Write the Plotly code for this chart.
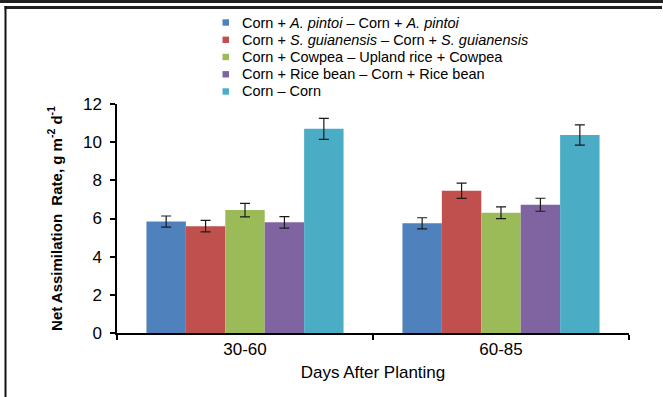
import plotly.graph_objects as go

# ---- data ----
categories = ["30-60", "60-85"]
series_names = [
    "Corn + <i>A. pintoi</i> – Corn + <i>A. pintoi</i>",
    "Corn + <i>S. guianensis</i> – Corn + <i>S. guianensis</i>",
    "Corn + Cowpea – Upland rice + Cowpea",
    "Corn + Rice bean – Corn + Rice bean",
    "Corn – Corn",
]
values_pintoi = [5.84, 5.75]
values_guianensis = [5.60, 7.45]
values_cowpea = [6.44, 6.30]
values_ricebean = [5.80, 6.72]
values_corn = [10.70, 10.38]
err_pintoi = [0.29, 0.29]
err_guianensis = [0.30, 0.40]
err_cowpea = [0.35, 0.31]
err_ricebean = [0.30, 0.34]
err_corn = [0.55, 0.53]

all_values = [values_pintoi, values_guianensis, values_cowpea, values_ricebean, values_corn]
all_errors = [err_pintoi, err_guianensis, err_cowpea, err_ricebean, err_corn]
colors = ["#4F81BD", "#C0504D", "#9BBB59", "#8064A2", "#4BACC6"]

W, H = 663, 397
ML, MR, MT, MB = 117, 34, 101, 67
PW, PH = W - ML - MR, H - MT - MB
FONT = "Liberation Sans, Arial, sans-serif"


def px(x):
    return (x - ML) / PW


def py(y):
    return (H - MB - y) / PH


fig = go.Figure()
for name, vals, errs, col in zip(series_names, all_values, all_errors, colors):
    fig.add_trace(go.Bar(
        x=categories, y=vals, name=name, marker_color=col,
        marker_line_width=0,
        error_y=dict(type="data", array=errs, visible=True,
                     color="#1a1a1a", thickness=1.2, width=5),
        showlegend=False,
    ))

shapes = []
annotations = []
# manual legend (compact, as in the reference)
row_y = [19.5, 36.8, 54.0, 71.3, 88.5]
for name, col, yy in zip(series_names, colors, row_y):
    shapes.append(dict(type="rect", xref="paper", yref="paper",
                       x0=px(222.5), x1=px(229), y0=py(yy + 3.2), y1=py(yy - 3.2),
                       fillcolor=col, line_width=0))
    annotations.append(dict(xref="paper", yref="paper", x=px(239.5), y=py(yy),
                            xanchor="left", yanchor="middle", showarrow=False,
                            text=name, font=dict(family=FONT, size=14.5, color="black")))

# outer frame
shapes.append(dict(type="line", xref="paper", yref="paper",
                   x0=px(4.5), x1=px(662), y0=py(4.5), y1=py(4.5),
                   line=dict(color="#222222", width=3)))
shapes.append(dict(type="line", xref="paper", yref="paper",
                   x0=px(5.5), x1=px(5.5), y0=py(3), y1=py(396),
                   line=dict(color="#111", width=2)))
shapes.append(dict(type="line", xref="paper", yref="paper",
                   x0=px(4.5), x1=px(662), y0=py(395.8), y1=py(395.8),
                   line=dict(color="#888", width=1.5)))

fig.update_layout(
    width=W, height=H,
    margin=dict(l=ML, r=MR, t=MT, b=MB, autoexpand=False),
    paper_bgcolor="white", plot_bgcolor="white",
    barmode="group", bargap=0.23, bargroupgap=0,
    font=dict(family=FONT, color="black"),
    shapes=shapes, annotations=annotations,
    showlegend=False,
)
fig.update_xaxes(
    type="category", showline=True, linecolor="black", linewidth=1.5,
    ticks="outside", tickson="boundaries", ticklen=5, tickcolor="black", tickwidth=1.5,
    tickfont=dict(size=17, family=FONT, color="black"),
    title=dict(text="Days After Planting", font=dict(size=17, family=FONT, color="black"), standoff=8),
    showgrid=False,
)
fig.update_yaxes(
    range=[0, 12], dtick=2, showline=True, linecolor="black", linewidth=1.5,
    ticks="outside", ticklen=5, tickcolor="black", tickwidth=1.5,
    ticklabelstandoff=5,
    tickfont=dict(size=17, family=FONT, color="black"),
    title=dict(text="<b>Net Assimilation  Rate, g m<sup>-2</sup> d<sup>-1</sup></b>",
               font=dict(size=15, family=FONT, color="black"), standoff=17),
    showgrid=False, zeroline=False,
)

fig.write_html(
    "out.html", config={"displayModeBar": False},
    post_script=(
        "document.body.style.margin='0px';"
        "document.body.style.overflow='hidden';"
        "var gd=document.getElementsByClassName('plotly-graph-div')[0];"
        "gd.style.borderTop='3px solid #222';gd.style.boxSizing='border-box';"
        "gd.style.position='relative';gd.style.top='0px';"
    ),
)
